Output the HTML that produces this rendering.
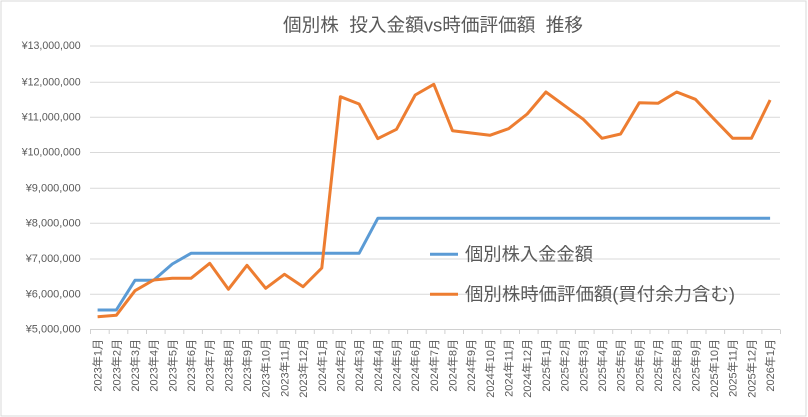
<!DOCTYPE html>
<html><head><meta charset="utf-8">
<style>
html,body{margin:0;padding:0;background:#fff;}
svg{display:block;}
text{font-family:"Liberation Sans","Noto Sans CJK JP",sans-serif;fill:#595959;}
</style></head>
<body>
<svg width="808" height="417" viewBox="0 0 808 417" xmlns="http://www.w3.org/2000/svg">
<rect x="0" y="0" width="808" height="417" fill="#fff"/>
<rect x="1" y="1" width="805" height="415" fill="none" stroke="#d9d9d9" stroke-width="1"/>
<!-- title -->
<text x="283" y="25" font-size="18.5" dominant-baseline="central" textLength="300" lengthAdjust="spacingAndGlyphs" xml:space="preserve">個別株  投入金額vs時価評価額  推移</text>
<!-- gridlines -->
<g stroke="#d9d9d9" stroke-width="1">
<line x1="90" x2="780" y1="46" y2="46"/>
<line x1="90" x2="780" y1="82.3" y2="82.3"/>
<line x1="90" x2="780" y1="117.3" y2="117.3"/>
<line x1="90" x2="780" y1="152.5" y2="152.5"/>
<line x1="90" x2="780" y1="188.3" y2="188.3"/>
<line x1="90" x2="780" y1="223.3" y2="223.3"/>
<line x1="90" x2="780" y1="259" y2="259"/>
<line x1="90" x2="780" y1="294.3" y2="294.3"/>
</g>
<!-- axis -->
<g stroke="#d0d0d0" stroke-width="1">
<line x1="90" x2="780" y1="329.5" y2="329.5"/>
<line x1="90.5" x2="90.5" y1="329.5" y2="334"/>
<line x1="109.2" x2="109.2" y1="329.5" y2="334"/>
<line x1="127.8" x2="127.8" y1="329.5" y2="334"/>
<line x1="146.5" x2="146.5" y1="329.5" y2="334"/>
<line x1="165.1" x2="165.1" y1="329.5" y2="334"/>
<line x1="183.8" x2="183.8" y1="329.5" y2="334"/>
<line x1="202.4" x2="202.4" y1="329.5" y2="334"/>
<line x1="221.1" x2="221.1" y1="329.5" y2="334"/>
<line x1="239.7" x2="239.7" y1="329.5" y2="334"/>
<line x1="258.4" x2="258.4" y1="329.5" y2="334"/>
<line x1="277.0" x2="277.0" y1="329.5" y2="334"/>
<line x1="295.7" x2="295.7" y1="329.5" y2="334"/>
<line x1="314.3" x2="314.3" y1="329.5" y2="334"/>
<line x1="333.0" x2="333.0" y1="329.5" y2="334"/>
<line x1="351.6" x2="351.6" y1="329.5" y2="334"/>
<line x1="370.3" x2="370.3" y1="329.5" y2="334"/>
<line x1="388.9" x2="388.9" y1="329.5" y2="334"/>
<line x1="407.6" x2="407.6" y1="329.5" y2="334"/>
<line x1="426.2" x2="426.2" y1="329.5" y2="334"/>
<line x1="444.9" x2="444.9" y1="329.5" y2="334"/>
<line x1="463.5" x2="463.5" y1="329.5" y2="334"/>
<line x1="482.2" x2="482.2" y1="329.5" y2="334"/>
<line x1="500.8" x2="500.8" y1="329.5" y2="334"/>
<line x1="519.5" x2="519.5" y1="329.5" y2="334"/>
<line x1="538.1" x2="538.1" y1="329.5" y2="334"/>
<line x1="556.8" x2="556.8" y1="329.5" y2="334"/>
<line x1="575.4" x2="575.4" y1="329.5" y2="334"/>
<line x1="594.1" x2="594.1" y1="329.5" y2="334"/>
<line x1="612.7" x2="612.7" y1="329.5" y2="334"/>
<line x1="631.4" x2="631.4" y1="329.5" y2="334"/>
<line x1="650.0" x2="650.0" y1="329.5" y2="334"/>
<line x1="668.7" x2="668.7" y1="329.5" y2="334"/>
<line x1="687.3" x2="687.3" y1="329.5" y2="334"/>
<line x1="706.0" x2="706.0" y1="329.5" y2="334"/>
<line x1="724.6" x2="724.6" y1="329.5" y2="334"/>
<line x1="743.3" x2="743.3" y1="329.5" y2="334"/>
<line x1="761.9" x2="761.9" y1="329.5" y2="334"/>
<line x1="780.5" x2="780.5" y1="329.5" y2="334"/>
</g>
<!-- y labels -->
<g font-size="11" text-anchor="end" dominant-baseline="central">
<text x="80.7" y="46" textLength="59" lengthAdjust="spacingAndGlyphs">¥13,000,000</text>
<text x="80.7" y="82.3" textLength="59" lengthAdjust="spacingAndGlyphs">¥12,000,000</text>
<text x="80.7" y="117.3" textLength="59" lengthAdjust="spacingAndGlyphs">¥11,000,000</text>
<text x="80.7" y="152.5" textLength="59" lengthAdjust="spacingAndGlyphs">¥10,000,000</text>
<text x="80.7" y="188.3" textLength="55" lengthAdjust="spacingAndGlyphs">¥9,000,000</text>
<text x="80.7" y="223.3" textLength="55" lengthAdjust="spacingAndGlyphs">¥8,000,000</text>
<text x="80.7" y="259" textLength="55" lengthAdjust="spacingAndGlyphs">¥7,000,000</text>
<text x="80.7" y="294.3" textLength="55" lengthAdjust="spacingAndGlyphs">¥6,000,000</text>
<text x="80.7" y="329.5" textLength="55" lengthAdjust="spacingAndGlyphs">¥5,000,000</text>
</g>
<!-- x labels -->
<g font-size="11" text-anchor="end" dominant-baseline="central">
<text transform="translate(98.6,339) rotate(-90)">2023年1月</text>
<text transform="translate(117.3,339) rotate(-90)">2023年2月</text>
<text transform="translate(136.0,339) rotate(-90)">2023年3月</text>
<text transform="translate(154.6,339) rotate(-90)">2023年4月</text>
<text transform="translate(173.3,339) rotate(-90)">2023年5月</text>
<text transform="translate(192.0,339) rotate(-90)">2023年6月</text>
<text transform="translate(210.7,339) rotate(-90)">2023年7月</text>
<text transform="translate(229.4,339) rotate(-90)">2023年8月</text>
<text transform="translate(248.0,339) rotate(-90)">2023年9月</text>
<text transform="translate(266.7,339) rotate(-90)">2023年10月</text>
<text transform="translate(285.4,339) rotate(-90)">2023年11月</text>
<text transform="translate(304.1,339) rotate(-90)">2023年12月</text>
<text transform="translate(322.8,339) rotate(-90)">2024年1月</text>
<text transform="translate(341.4,339) rotate(-90)">2024年2月</text>
<text transform="translate(360.1,339) rotate(-90)">2024年3月</text>
<text transform="translate(378.8,339) rotate(-90)">2024年4月</text>
<text transform="translate(397.5,339) rotate(-90)">2024年5月</text>
<text transform="translate(416.2,339) rotate(-90)">2024年6月</text>
<text transform="translate(434.8,339) rotate(-90)">2024年7月</text>
<text transform="translate(453.5,339) rotate(-90)">2024年8月</text>
<text transform="translate(472.2,339) rotate(-90)">2024年9月</text>
<text transform="translate(490.9,339) rotate(-90)">2024年10月</text>
<text transform="translate(509.6,339) rotate(-90)">2024年11月</text>
<text transform="translate(528.2,339) rotate(-90)">2024年12月</text>
<text transform="translate(546.9,339) rotate(-90)">2025年1月</text>
<text transform="translate(565.6,339) rotate(-90)">2025年2月</text>
<text transform="translate(584.3,339) rotate(-90)">2025年3月</text>
<text transform="translate(603.0,339) rotate(-90)">2025年4月</text>
<text transform="translate(621.6,339) rotate(-90)">2025年5月</text>
<text transform="translate(640.3,339) rotate(-90)">2025年6月</text>
<text transform="translate(659.0,339) rotate(-90)">2025年7月</text>
<text transform="translate(677.7,339) rotate(-90)">2025年8月</text>
<text transform="translate(696.4,339) rotate(-90)">2025年9月</text>
<text transform="translate(715.0,339) rotate(-90)">2025年10月</text>
<text transform="translate(733.7,339) rotate(-90)">2025年11月</text>
<text transform="translate(752.4,339) rotate(-90)">2025年12月</text>
<text transform="translate(771.1,339) rotate(-90)">2026年1月</text>
</g>
<!-- blue series -->
<polyline fill="none" stroke="#5b9bd5" stroke-width="3" stroke-linejoin="round" points="97.6,310 116.3,310 135.0,280.3 153.6,280.3 172.3,264 191.0,253.3 209.7,253.3 228.4,253.3 247.0,253.3 265.7,253.3 284.4,253.3 303.1,253.3 321.8,253.3 340.4,253.3 359.1,253.3 377.8,218.3 396.5,218.3 415.2,218.3 433.8,218.3 452.5,218.3 471.2,218.3 489.9,218.3 508.6,218.3 527.2,218.3 545.9,218.3 564.6,218.3 583.3,218.3 602.0,218.3 620.6,218.3 639.3,218.3 658.0,218.3 676.7,218.3 695.4,218.3 714.0,218.3 732.7,218.3 751.4,218.3 770.1,218.3"/>
<!-- orange series -->
<polyline fill="none" stroke="#ed7d31" stroke-width="3" stroke-linejoin="round" points="97.6,316.7 116.3,315.3 135.0,290.7 153.6,280 172.3,278.3 191.0,278.3 209.7,263.3 228.4,289.3 247.0,265.3 265.7,288.3 284.4,274.3 303.1,286.7 321.8,268 340.4,96.7 359.1,104 377.8,138.6 396.5,129.3 415.2,95 433.8,84.3 452.5,130.7 471.2,133 489.9,135.3 508.6,128.7 527.2,114 545.9,92 564.6,105.7 583.3,119.3 602.0,138.3 620.6,134 639.3,102.7 658.0,103.3 676.7,92 695.4,99.3 714.0,119 732.7,138.3 751.4,138.3 770.1,100"/>
<!-- legend -->
<line x1="430" x2="458" y1="254.3" y2="254.3" stroke="#5b9bd5" stroke-width="3"/>
<text x="465" y="254.3" font-size="18" dominant-baseline="central" textLength="128" lengthAdjust="spacingAndGlyphs">個別株入金金額</text>
<line x1="430" x2="458" y1="294.3" y2="294.3" stroke="#ed7d31" stroke-width="3"/>
<text x="465" y="294.3" font-size="18" dominant-baseline="central" textLength="270" lengthAdjust="spacingAndGlyphs">個別株時価評価額(買付余力含む)</text>
</svg>
</body></html>
